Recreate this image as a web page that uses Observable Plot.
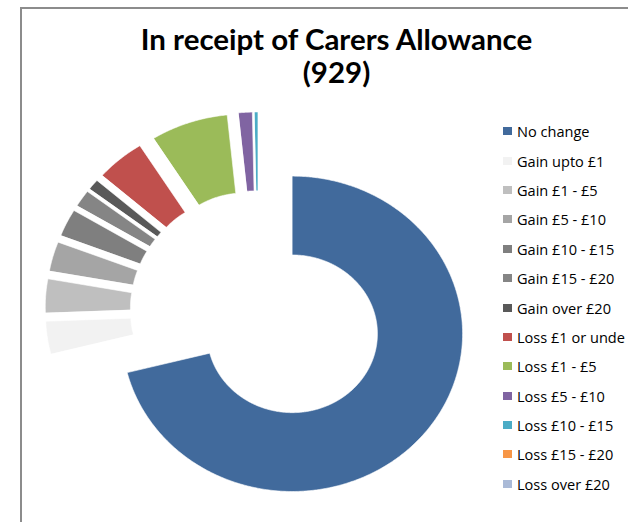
<!DOCTYPE html>
<html>
<head>
<meta charset="utf-8">
<script src="https://cdn.jsdelivr.net/npm/d3@7"></script>
<script src="https://cdn.jsdelivr.net/npm/@observablehq/plot@0.6"></script>
<style>
  body { margin: 0; background: #fff; }
  #wrap { position: relative; width: 628px; height: 522px; overflow: hidden; font-family: Lato, "Open Sans", sans-serif; }
  #chart { position: absolute; left: 0; top: 0; }
  #frame { position: absolute; left: 20px; top: 7px; width: 700px; height: 600px; border-left: 2px solid #8c8c8c; border-top: 2px solid #8c8c8c; box-sizing: border-box; pointer-events: none; }
  .tline { position: absolute; left: 20px; width: 633px; text-align: center; font-weight: bold; color: #000; white-space: nowrap; line-height: 1; }
  #legend { position: absolute; left: 503px; top: 116.5px; width: 125px; overflow: hidden; }
  #legend .lg-swatches { margin: 0; font-family: "Open Sans", sans-serif; font-size: 14px; color: #000; }
  #legend .lg-swatch { height: 29.4px; padding: 0; margin: 0; display: flex; align-items: center; }
  #legend .lg-swatch > svg { margin-right: 5px; }
  #legend .lg-swatch-label { text-overflow: clip; overflow: visible; white-space: nowrap; }
</style>
</head>
<body>
<div id="wrap">
  <div id="chart"></div>
  <div id="frame"></div>
  <div id="t1" class="tline">In receipt of Carers Allowance</div>
  <div id="t2" class="tline">(929)</div>
  <div id="legend"></div>
</div>
<script>
// ---- data ----
// legend labels as shown in the picture (the 8th is truncated there)
const categories = [
  "No change", "Gain upto £1", "Gain £1 - £5", "Gain £5 - £10", "Gain £10 - £15",
  "Gain £15 - £20", "Gain over £20", "Loss £1 or unde", "Loss £1 - £5",
  "Loss £5 - £10", "Loss £10 - £15", "Loss £15 - £20", "Loss over £20"
];
const counts = [660, 31, 32, 28, 26, 16, 10, 43, 68, 12, 3, 0, 0];
const colors = [
  "#416a9c", "#f2f2f2", "#bfbfbf", "#a5a5a5", "#7f7f7f",
  "#858585", "#595959", "#c0504d", "#9bbb59",
  "#8064a2", "#4bacc6", "#f79646", "#aabad7"
];
const titleLines = ["In receipt of Carers Allowance", "(929)"];

// ---- geometry of the exploded doughnut (in radius units) ----
const outerR = 1, innerR = 0.5, explode = 0.252;
const total = d3.sum(counts);
const ends = Array.from(d3.cumsum(counts));
const slices = categories.map((c, i) => ({
  c,
  a0: (ends[i] - counts[i]) / total * 2 * Math.PI,
  a1: ends[i] / total * 2 * Math.PI
})).filter(s => s.a1 > s.a0);

const pts = [];
for (const s of slices) {
  const m = (s.a0 + s.a1) / 2;
  const ox = explode * Math.sin(m), oy = explode * Math.cos(m);
  const n = Math.max(2, Math.ceil((s.a1 - s.a0) / (Math.PI / 360)));
  for (let k = 0; k <= n; k++) {
    const a = s.a0 + (s.a1 - s.a0) * k / n;
    pts.push({c: s.c, x: ox + outerR * Math.sin(a), y: oy + outerR * Math.cos(a)});
  }
  for (let k = n; k >= 0; k--) {
    const a = s.a0 + (s.a1 - s.a0) * k / n;
    pts.push({c: s.c, x: ox + innerR * Math.sin(a), y: oy + innerR * Math.cos(a)});
  }
}

// scale setup: radius 157.7px vertically, stretched 1.08 horizontally
const R = 157.7, KX = 1.08, CX = 257.9, CY = 308.9;
const chart = Plot.plot({
  width: 628, height: 522, margin: 0,
  x: {domain: [-2, 2], range: [CX - 2 * R * KX, CX + 2 * R * KX], axis: null},
  y: {domain: [-2, 2], range: [CY + 2 * R, CY - 2 * R], axis: null},
  color: {domain: categories, range: colors},
  marks: [
    Plot.line(pts, {x: "x", y: "y", z: "c", fill: "c", stroke: "white", strokeWidth: 0.6, curve: "linear-closed"})
  ]
});
document.getElementById("chart").appendChild(chart);

// legend
const legend = Plot.legend({
  color: {domain: categories, range: colors},
  legend: "swatches", columns: 1, className: "lg",
  swatchWidth: 9, swatchHeight: 8
});
document.getElementById("legend").appendChild(legend);

function fitSize(text, font, target) {
  const ctx = document.createElement("canvas").getContext("2d");
  ctx.font = font.replace("SIZE", "100px");
  return 100 * target / ctx.measureText(text).width;
}
// legend font sized so the truncated 8th label just fits the right edge
const lsize = fitSize(categories[7], "SIZE 'Open Sans'", 108);
legend.style.fontSize = lsize + "px";

// title: fit font size to measured width, position by baseline
const tsize = fitSize(titleLines[0], "bold SIZE Lato", 393);
const t1 = document.getElementById("t1"), t2 = document.getElementById("t2");
t1.style.fontSize = t2.style.fontSize = tsize + "px";
const asc = 0.887;
t1.style.top = (50 - asc * tsize) + "px";
t2.style.top = (83.3 - asc * tsize) + "px";
</script>
</body>
</html>
